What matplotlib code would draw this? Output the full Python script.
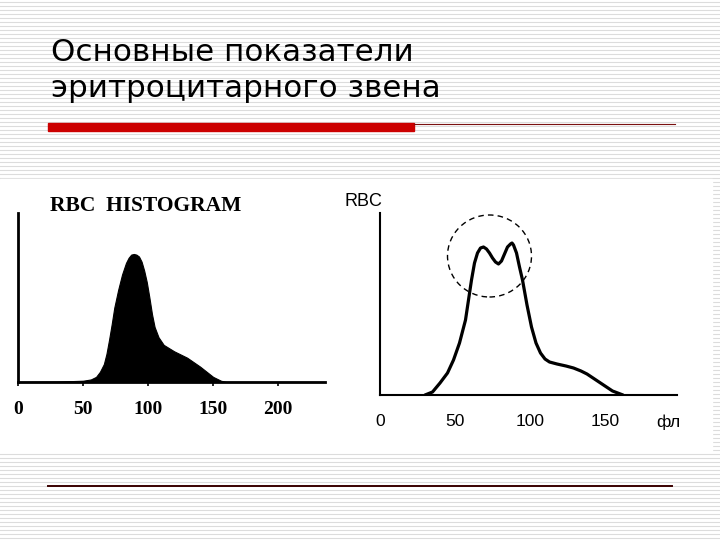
import matplotlib
matplotlib.use("Agg")
import matplotlib.pyplot as plt
from matplotlib.patches import Rectangle, Ellipse
import numpy as np

# slide title
title_lines = ["Основные показатели", "эритроцитарного звена"]

# left panel: normal RBC histogram (MCV, fL -> relative count, peak = 100)
left_mcv = [0, 30, 50, 56, 60, 63, 66, 68, 70, 72, 74, 77, 80, 83, 85, 87, 89,
            91, 93, 95, 97, 99, 101, 103, 105, 108, 112, 120, 130, 140, 150,
            156, 160, 236]
left_count = [0, 0.3, 1, 2, 4, 8, 14, 22, 33, 45, 58, 72, 84, 93, 97, 99.5, 100,
              99.5, 98, 94, 87, 78, 66, 53, 43, 35, 29, 24, 19, 12, 4,
              1, 0, 0]
left_ticks = [0, 50, 100, 150, 200]

# right panel: two-peak RBC histogram
right_mcv = [30, 35, 40, 45, 49, 53, 57, 59, 61, 63, 65, 67, 69, 71, 73, 75, 77,
             79, 81, 83, 85, 87, 88, 89, 91, 93, 95, 98, 101, 104, 107, 110,
             113, 118, 124, 129, 134, 138, 143, 149, 155, 162]
right_count = [0, 3, 12, 22, 35, 52, 75, 95, 115, 132, 142, 147, 148, 146, 142,
               137, 133, 131, 134, 141, 148, 151, 152, 150, 142, 128, 115, 90,
               68, 52, 42, 36, 33, 31, 29, 27, 24, 21, 16, 10, 4, 0]
right_ticks = [0, 50, 100, 150, 192]
right_labels = ["0", "50", "100", "150", "фл"]

W, H = 720, 540


def rect_px(x0, y_top, x1, y_bottom):
    # pixel box (top-left origin) -> figure fraction
    return [x0 / W, (H - y_bottom) / H, (x1 - x0) / W, (y_bottom - y_top) / H]


fig = plt.figure(figsize=(7.2, 5.4), dpi=100)

# background: striped slide
bg = fig.add_axes([0, 0, 1, 1])
bg.set_xlim(0, W)
bg.set_ylim(H, 0)
bg.axis("off")
for y in np.arange(1.5, H, 4):
    bg.axhline(y, color="#dcdcdc", lw=0.8, zorder=0)
bg.add_patch(Rectangle((0, 179), 712, 273, color="white", zorder=1))
bg.add_patch(Rectangle((48, 123), 366, 8, color="#cc0000", zorder=2))
bg.plot([414, 675], [123.5, 123.5], color="#7a1010", lw=0.8, zorder=2)
bg.plot([48, 672], [486, 486], color="#3a0000", lw=1.4, zorder=2)

for i, line in enumerate(title_lines):
    bg.text(51, 61 + 36 * i, line, fontsize=22.3, family="DejaVu Sans",
            color="black", ha="left", va="baseline", zorder=3)

# left histogram
axl = fig.add_axes(rect_px(18, 213, 325, 382))
axl.fill_between(left_mcv, left_count, 0, color="black", lw=0.8)
axl.set_xlim(0, 236)
axl.set_ylim(0, 132)
for s in ["top", "right"]:
    axl.spines[s].set_visible(False)
for s in ["left", "bottom"]:
    axl.spines[s].set_linewidth(2)
axl.set_yticks([])
axl.set_xticks(left_ticks)
axl.tick_params(axis="x", direction="out", length=3, width=1.2, pad=11,
                labelsize=14)
for lab in axl.get_xticklabels():
    lab.set_family("Liberation Serif")
    lab.set_fontweight("bold")
axl.patch.set_alpha(0)
fig.text(50 / W, 1 - 206 / H, "RBC  HISTOGRAM", fontsize=15.5,
         family="Liberation Serif", fontweight="bold", va="center", ha="left")

# right histogram
axr = fig.add_axes(rect_px(380, 213, 677, 395))
axr.plot(right_mcv, right_count, color="black", lw=2.3, solid_capstyle="round",
         solid_joinstyle="round")
axr.set_xlim(0, 198)
axr.set_ylim(0, 182)
for s in ["top", "right"]:
    axr.spines[s].set_visible(False)
for s in ["left", "bottom"]:
    axr.spines[s].set_linewidth(1.5)
axr.set_yticks([])
axr.set_xticks(right_ticks, labels=right_labels)
axr.tick_params(axis="x", length=0, pad=14, labelsize=12.5)
axr.set_xticks([150], minor=True)
axr.tick_params(axis="x", which="minor", direction="inout", length=7, width=1)
for lab in axr.get_xticklabels():
    lab.set_family("Liberation Sans")
axr.patch.set_alpha(0)

# dashed circle around the double peak
px_x = axr.bbox.width / 198
px_y = axr.bbox.height / 182
axr.add_patch(Ellipse((73, 139), 2 * 42 / px_x, 2 * 41 / px_y, fill=False,
                      ls=(0, (4, 3)), lw=1.0, color="black", clip_on=False))
fig.text(345 / W, 1 - 202 / H, "RBC", fontsize=13, family="Liberation Sans",
         va="center", ha="left")

fig.savefig("out.png", dpi=100)
